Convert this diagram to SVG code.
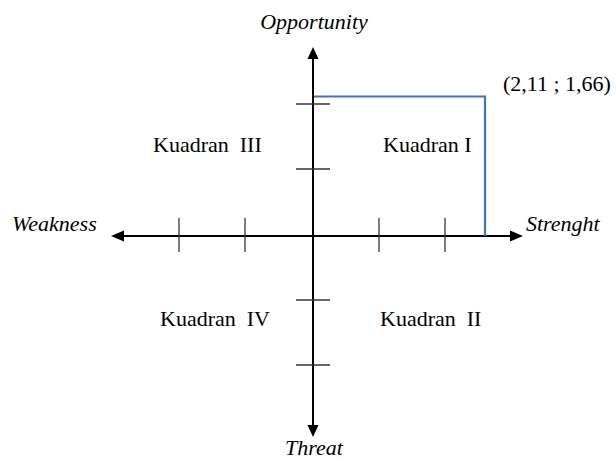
<svg xmlns="http://www.w3.org/2000/svg" width="616" height="459" viewBox="0 0 616 459">
<style>
.axis{stroke:#000;stroke-width:2;fill:none}
.tick{stroke:#333;stroke-width:1.3;fill:none}
.blue{stroke:#4472C4;stroke-width:2.2;fill:none}
.head{fill:#000}
</style>
<rect width="616" height="459" fill="#fff"/>
<g id="connectors">
<line class="axis" x1="313" y1="56" x2="313" y2="426"/>
<line class="axis" x1="122" y1="236" x2="512" y2="236"/>
<polygon class="head" points="313,47 307.5,59 318.5,59"/>
<polygon class="head" points="313,437 307.5,425 318.5,425"/>
<polygon class="head" points="111,236 124,230.5 124,241.5"/>
<polygon class="head" points="523,236 510,230.5 510,241.5"/>
<line class="tick" x1="296" y1="104" x2="330" y2="104"/>
<line class="tick" x1="296" y1="169" x2="330" y2="169"/>
<line class="tick" x1="296" y1="300" x2="330" y2="300"/>
<line class="tick" x1="296" y1="365" x2="330" y2="365"/>
<line class="tick" x1="179" y1="218" x2="179" y2="252"/>
<line class="tick" x1="245" y1="218" x2="245" y2="252"/>
<line class="tick" x1="379" y1="218" x2="379" y2="252"/>
<line class="tick" x1="445" y1="218" x2="445" y2="252"/>
<polyline class="blue" points="314,96.5 485,96.5 485,236"/>
</g>
<g font-family="Liberation Serif, Times New Roman, serif" font-size="22" fill="#000">
<g id="opportunity"><text font-style="italic" x="314" y="29" text-anchor="middle">Opportunity</text></g>
<g id="threat"><text font-style="italic" x="314" y="455" text-anchor="middle">Threat</text></g>
<g id="weakness"><text font-style="italic" x="12" y="231">Weakness</text></g>
<g id="strenght"><text font-style="italic" x="526" y="231">Strenght</text></g>
<g id="point"><text x="503" y="91">(2,11 ; 1,66)</text></g>
<g id="k3"><text x="153" y="152" xml:space="preserve">Kuadran  III</text></g>
<g id="k1"><text x="383" y="152">Kuadran I</text></g>
<g id="k4"><text x="160" y="326" xml:space="preserve">Kuadran  IV</text></g>
<g id="k2"><text x="380" y="326" xml:space="preserve">Kuadran  II</text></g>
</g>
</svg>
